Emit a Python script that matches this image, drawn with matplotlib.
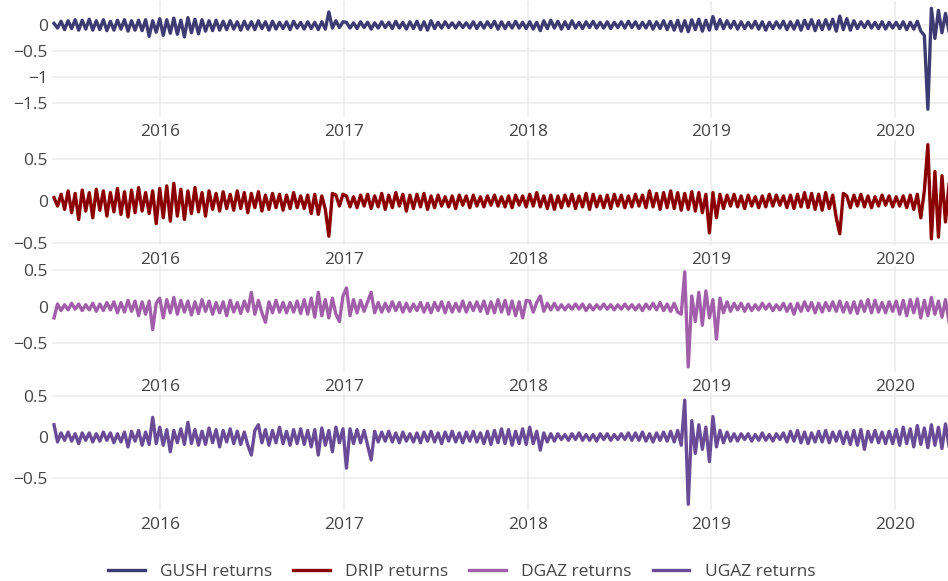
import numpy as np
import pandas as pd
import matplotlib
matplotlib.use("Agg")
import matplotlib.pyplot as plt
import matplotlib.dates as mdates
from matplotlib.ticker import FuncFormatter

plt.rcParams['font.family'] = ['Open Sans', 'DejaVu Sans']

# weekly returns (one row per year: 2015 from June, 2016 ... 2020 to April)
START = "2015-06-05"

GUSH = [
    0.03, -0.06, 0.07, -0.09, 0.08, -0.07, 0.10, -0.10, 0.09, -0.08,
    0.11, -0.10, 0.08, -0.09, 0.10, -0.11, 0.07, -0.10, 0.09, -0.08,
    0.10, -0.12, 0.08, -0.10, 0.09, -0.11, 0.10, -0.22, 0.08, -0.14,
    # 2016
    0.12, -0.20, 0.10, -0.16, 0.13, -0.18, 0.09, -0.23, 0.14, -0.15,
    0.11, -0.17, 0.10, -0.12, 0.08, -0.11, 0.09, -0.10, 0.07, -0.09,
    0.08, -0.08, 0.06, -0.10, 0.07, -0.08, 0.06, -0.09, 0.08, -0.07,
    0.06, -0.10, 0.07, -0.08, 0.05, -0.07, 0.06, -0.09, 0.07, -0.06,
    0.05, -0.08, 0.06, -0.07, 0.05, -0.09, 0.06, -0.08, 0.25, -0.06,
    0.08, -0.05, 0.06,
    # 2017
    0.05, -0.06, 0.04, -0.07, 0.06, -0.05, 0.05, -0.08, 0.04, -0.06,
    0.06, -0.05, 0.05, -0.07, 0.07, -0.06, 0.05, -0.08, 0.06, -0.07,
    0.07, -0.09, 0.06, -0.10, 0.08, -0.07, 0.05, -0.06, 0.06, -0.05,
    0.04, -0.06, 0.05, -0.05, 0.04, -0.06, 0.06, -0.07, 0.05, -0.06,
    0.06, -0.05, 0.07, -0.08, 0.06, -0.07, 0.05, -0.06, 0.07, -0.06,
    0.05, -0.07,
    # 2018
    0.06, -0.08, 0.05, -0.11, 0.08, -0.07, 0.09, -0.06, 0.07, -0.08,
    0.06, -0.07, 0.08, -0.06, 0.05, -0.07, 0.06, -0.05, 0.07, -0.06,
    0.05, -0.06, 0.06, -0.07, 0.05, -0.05, 0.06, -0.06, 0.07, -0.05,
    0.06, -0.07, 0.05, -0.06, 0.07, -0.08, 0.06, -0.07, 0.08, -0.09,
    0.07, -0.10, 0.09, -0.12, 0.08, -0.13, 0.10, -0.09, 0.11, -0.12,
    0.09, -0.10,
    # 2019
    0.16, -0.08, 0.10, -0.07, 0.08, -0.06, 0.07, -0.08, 0.06, -0.07,
    0.05, -0.06, 0.07, -0.08, 0.06, -0.10, 0.05, -0.07, 0.06, -0.06,
    0.07, -0.09, 0.06, -0.08, 0.08, -0.10, 0.09, -0.07, 0.10, -0.11,
    0.08, -0.09, 0.10, -0.08, 0.11, -0.12, 0.17, -0.09, 0.12, -0.10,
    0.08, -0.07, 0.06, -0.05, 0.07, -0.06, 0.05, -0.07, 0.06, -0.08,
    0.05, -0.06,
    # 2020
    0.05, -0.07, 0.06, -0.09, 0.05, -0.08, 0.07, -0.12, -0.20, -1.62,
    0.32, -0.26, 0.28, -0.15, 0.22, -0.12,
]

DRIP = [
    0.04, -0.06, 0.08, -0.10, 0.12, -0.14, 0.09, -0.22, 0.13, -0.12,
    0.10, -0.20, 0.14, -0.11, 0.12, -0.18, 0.10, -0.13, 0.15, -0.16,
    0.11, -0.19, 0.13, -0.14, 0.16, -0.12, 0.10, -0.15, 0.12, -0.27,
    # 2016
    0.15, -0.20, 0.18, -0.24, 0.21, -0.18, 0.14, -0.22, 0.12, -0.15,
    0.16, -0.13, 0.10, -0.18, 0.12, -0.10, 0.09, -0.12, 0.11, -0.09,
    0.08, -0.11, 0.12, -0.09, 0.10, -0.14, 0.09, -0.08, 0.11, -0.12,
    0.07, -0.10, 0.09, -0.08, 0.08, -0.11, 0.07, -0.09, 0.10, -0.08,
    0.06, -0.09, 0.07, -0.15, 0.08, -0.16, 0.06, -0.10, -0.42, 0.09,
    0.07, -0.06, 0.08,
    # 2017
    0.06, -0.07, 0.05, -0.08, 0.07, -0.06, 0.08, -0.09, 0.06, -0.07,
    0.09, -0.10, 0.07, -0.08, 0.10, -0.06, 0.08, -0.12, 0.07, -0.09,
    0.08, -0.07, 0.09, -0.10, 0.06, -0.08, 0.07, -0.06, 0.05, -0.07,
    0.06, -0.09, 0.07, -0.05, 0.06, -0.08, 0.07, -0.06, 0.05, -0.07,
    0.06, -0.05, 0.07, -0.06, 0.05, -0.07, 0.06, -0.08, 0.07, -0.05,
    0.06, -0.07,
    # 2018
    0.08, -0.06, 0.10, -0.07, 0.06, -0.09, 0.07, -0.10, 0.06, -0.08,
    0.07, -0.06, 0.08, -0.09, 0.06, -0.07, 0.09, -0.10, 0.08, -0.07,
    0.06, -0.08, 0.07, -0.09, 0.08, -0.06, 0.07, -0.08, 0.06, -0.07,
    0.08, -0.06, 0.07, -0.08, 0.12, -0.07, 0.09, -0.10, 0.10, -0.08,
    0.12, -0.09, 0.10, -0.11, 0.09, -0.10, 0.11, -0.12, 0.10, -0.14,
    0.08, -0.38,
    # 2019
    0.10, -0.20, 0.08, -0.09, 0.07, -0.06, 0.08, -0.07, 0.06, -0.09,
    0.07, -0.06, 0.05, -0.08, 0.06, -0.07, 0.08, -0.06, 0.07, -0.05,
    0.06, -0.08, 0.07, -0.09, 0.08, -0.07, 0.10, -0.08, 0.09, -0.10,
    0.08, -0.11, 0.10, -0.09, 0.07, -0.20, -0.39, 0.09, 0.06, -0.08,
    0.07, -0.06, 0.08, -0.07, 0.06, -0.08, 0.05, -0.06, 0.07, -0.05,
    0.06, -0.07,
    # 2020
    0.05, -0.06, 0.06, -0.08, 0.07, -0.10, 0.08, -0.20, 0.12, 0.67,
    -0.45, 0.35, -0.43, 0.30, -0.25, 0.20,
]

DGAZ = [
    -0.15, 0.04, -0.05, 0.03, -0.04, 0.05, -0.03, 0.04, -0.05, 0.03,
    -0.04, 0.05, -0.06, 0.04, -0.05, 0.06, -0.04, 0.07, -0.08, 0.06,
    -0.07, 0.09, -0.06, 0.08, -0.12, 0.07, -0.10, 0.08, -0.31, 0.05,
    # 2016
    0.12, -0.15, 0.10, -0.08, 0.13, -0.10, 0.09, -0.07, 0.08, -0.11,
    0.07, -0.09, 0.10, -0.06, 0.08, -0.10, 0.06, -0.08, 0.07, -0.12,
    0.09, -0.07, 0.06, -0.09, 0.08, -0.06, 0.20, -0.10, 0.09, -0.08,
    -0.21, 0.07, -0.08, 0.09, -0.07, 0.06, -0.08, 0.06, -0.07, 0.08,
    -0.09, 0.10, -0.10, 0.12, -0.14, 0.20, -0.12, 0.10, -0.15, 0.12,
    -0.10, -0.20, 0.15,
    # 2017
    0.26, -0.12, 0.10, -0.08, 0.09, -0.06, 0.07, 0.20, -0.08, 0.06,
    -0.07, 0.05, -0.06, 0.07, -0.05, 0.06, -0.07, 0.05, -0.06, 0.04,
    -0.05, 0.06, -0.07, 0.05, -0.08, 0.06, -0.05, 0.07, -0.08, 0.06,
    -0.07, 0.05, -0.06, 0.08, -0.07, 0.06, -0.05, 0.07, -0.06, 0.08,
    -0.09, 0.07, -0.08, 0.10, -0.07, 0.09, -0.10, 0.08, -0.12, 0.07,
    -0.15, 0.09,
    # 2018
    0.08, -0.07, 0.06, 0.15, -0.06, 0.05, -0.04, 0.05, -0.04, 0.03,
    -0.04, 0.03, -0.03, 0.04, -0.03, 0.04, -0.05, 0.03, -0.04, 0.03,
    -0.03, 0.04, -0.03, 0.03, -0.04, 0.03, -0.03, 0.04, -0.03, 0.03,
    -0.04, 0.03, -0.05, 0.04, -0.03, 0.05, -0.04, 0.06, -0.05, 0.04,
    -0.06, 0.05, -0.07, -0.10, 0.48, -0.82, 0.15, -0.20, 0.20, -0.25,
    0.22, -0.15,
    # 2019
    0.10, -0.44, 0.12, -0.08, 0.07, -0.06, 0.05, -0.04, 0.05, -0.06,
    0.04, -0.05, 0.03, -0.04, 0.05, -0.03, 0.04, -0.05, 0.03, -0.04,
    0.05, -0.06, 0.04, -0.10, 0.05, -0.06, 0.07, -0.05, 0.06, -0.08,
    0.05, -0.07, 0.06, -0.05, 0.07, -0.06, 0.08, -0.07, 0.06, -0.08,
    0.07, -0.09, 0.08, -0.06, 0.10, -0.08, 0.09, -0.07, 0.06, -0.08,
    0.07, -0.06,
    # 2020
    0.08, -0.10, 0.09, -0.12, 0.10, -0.08, 0.11, -0.15, 0.09, -0.12,
    0.13, -0.10, 0.08, -0.14, 0.10, -0.20,
]

UGAZ = [
    0.15, -0.06, 0.05, -0.04, 0.06, -0.05, 0.04, -0.08, 0.05, -0.04,
    0.05, -0.06, 0.04, -0.05, 0.06, -0.04, 0.05, -0.07, 0.04, -0.06,
    0.06, -0.12, 0.07, -0.05, 0.08, -0.10, 0.06, -0.09, 0.24, -0.08,
    # 2016
    0.12, -0.10, 0.09, -0.18, 0.08, -0.07, 0.10, -0.09, 0.18, -0.08,
    0.09, -0.10, 0.07, -0.09, 0.11, -0.07, 0.09, -0.12, 0.08, -0.06,
    0.10, -0.08, 0.07, -0.09, 0.06, -0.10, -0.22, 0.08, 0.15, -0.07,
    0.09, -0.10, 0.08, -0.07, 0.12, -0.08, 0.07, -0.10, 0.09, -0.08,
    0.10, -0.09, 0.08, -0.12, 0.09, -0.22, 0.11, -0.10, 0.08, -0.18,
    0.12, -0.07, 0.10,
    # 2017
    -0.38, 0.10, -0.08, 0.09, -0.07, 0.08, -0.10, -0.28, 0.07, -0.06,
    0.06, -0.05, 0.07, -0.06, 0.05, -0.07, 0.06, -0.05, 0.04, -0.06,
    0.05, -0.07, 0.06, -0.05, 0.07, -0.06, 0.05, -0.08, 0.06, -0.05,
    0.07, -0.06, 0.05, -0.07, 0.06, -0.05, 0.07, -0.06, 0.05, -0.08,
    0.07, -0.09, 0.08, -0.07, 0.10, -0.08, 0.09, -0.10, 0.07, -0.08,
    0.10, -0.09,
    # 2018
    0.12, -0.08, 0.07, -0.16, 0.05, -0.06, 0.04, -0.05, 0.04, -0.03,
    0.03, -0.04, 0.04, -0.03, 0.05, -0.04, 0.03, -0.04, 0.03, -0.05,
    0.04, -0.03, 0.04, -0.04, 0.03, -0.03, 0.04, -0.03, 0.05, -0.04,
    0.05, -0.04, 0.06, -0.05, 0.04, -0.06, 0.05, -0.04, 0.06, -0.05,
    0.07, -0.06, 0.08, -0.10, 0.45, -0.82, 0.20, -0.20, 0.15, -0.15,
    0.12, -0.30,
    # 2019
    0.25, -0.12, 0.08, -0.07, 0.06, -0.05, 0.04, -0.05, 0.04, -0.03,
    0.04, -0.05, 0.03, -0.04, 0.05, -0.04, 0.03, -0.05, 0.04, -0.03,
    0.05, -0.06, 0.07, -0.05, 0.08, -0.07, 0.06, -0.08, 0.05, -0.06,
    0.07, -0.06, 0.08, -0.07, 0.06, -0.05, 0.07, -0.08, 0.06, -0.09,
    0.08, -0.10, 0.09, -0.15, 0.07, -0.06, 0.08, -0.07, 0.06, -0.08,
    0.07, -0.08,
    # 2020
    0.09, -0.10, 0.12, -0.08, 0.10, -0.12, 0.14, -0.09, 0.11, -0.13,
    0.15, -0.10, 0.12, -0.14, 0.16, -0.11,
]

SERIES = ["GUSH returns", "DRIP returns", "DGAZ returns", "UGAZ returns"]
COLORS = ["#3e3b73", "#8b0000", "#a05fa8", "#6a4b96"]
Y_TICKS = [[0, -0.5, -1, -1.5], [0.5, 0, -0.5], [0.5, 0, -0.5], [0.5, 0, -0.5]]

# layout (pixels of the 948x581 canvas) and axis ranges
W, H = 948, 581
PANELS = [(1, 117), (140, 245), (266, 372), (393, 510)]
Y_RANGES = [(-1.77, 0.46), (-0.524, 0.726), (-0.89, 0.56), (-0.89, 0.537)]
X_RANGE = (pd.Timestamp("2015-06-01"), pd.Timestamp("2020-04-15"))


def fmt_tick(v, pos):
    s = f"{v:g}"
    return s.replace("-", "\u2212")


fig = plt.figure(figsize=(W / 100, H / 100), dpi=100)
handles = []
for k, vals in enumerate([GUSH, DRIP, DGAZ, UGAZ]):
    top, bot = PANELS[k]
    ax = fig.add_axes([52 / W, 1 - bot / H, (W - 52) / W, (bot - top) / H])
    dates = pd.date_range(START, periods=len(vals), freq="W-FRI")
    ln, = ax.plot(dates, vals, color=COLORS[k], lw=2.4, label=SERIES[k],
                  solid_joinstyle="round")
    handles.append(ln)
    ax.set_xlim(*X_RANGE)
    ax.set_ylim(*Y_RANGES[k])
    ax.set_yticks(Y_TICKS[k])
    ax.yaxis.set_major_formatter(FuncFormatter(fmt_tick))
    ax.xaxis.set_major_locator(mdates.YearLocator())
    ax.xaxis.set_major_formatter(mdates.DateFormatter("%Y"))
    ax.grid(True, color="#ebebeb", lw=1.1)
    ax.set_axisbelow(True)
    for sp in ax.spines.values():
        sp.set_visible(False)
    ax.tick_params(length=0, labelsize=12.5, colors="#444444")
    ax.tick_params(axis="x", pad=5)
    ax.tick_params(axis="y", pad=3)

fig.legend(handles=handles, loc="center", bbox_to_anchor=(0.487, 1 - 572 / H),
           ncol=4, frameon=False, fontsize=12.5, handlelength=2.1,
           handletextpad=0.9, columnspacing=1.2, labelcolor="#444444")

fig.savefig("out.png", dpi=100)
